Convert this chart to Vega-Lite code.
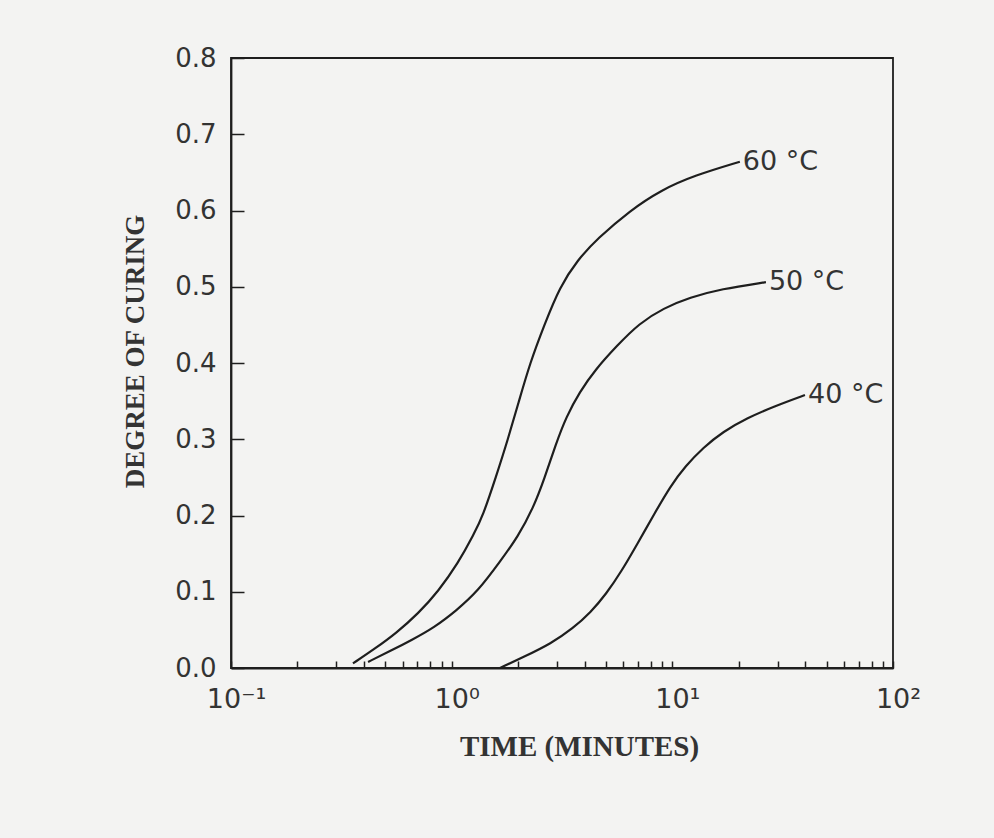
{
  "$schema": "https://vega.github.io/schema/vega-lite/v6.json",
  "width": 662,
  "height": 610,
  "autosize": {"type": "none"},
  "padding": {"left": 231, "top": 58, "right": 101, "bottom": 170},
  "background": "#f3f3f2",
  "config": {
    "view": {"stroke": "#1e1e1e", "strokeWidth": 1.8},
    "axis": {
      "domainColor": "#1e1e1e",
      "domainWidth": 1.8,
      "tickColor": "#1e1e1e",
      "tickWidth": 1.5,
      "grid": false,
      "labelColor": "#333333",
      "titleColor": "#333333",
      "labelFont": "DejaVu Sans",
      "titleFont": "Liberation Serif"
    }
  },
  "datasets": {
    "curves": [
      {"series": "60 °C", "t": 0.357, "v": 0.006},
      {"series": "60 °C", "t": 0.447, "v": 0.025},
      {"series": "60 °C", "t": 0.562, "v": 0.046},
      {"series": "60 °C", "t": 0.708, "v": 0.072},
      {"series": "60 °C", "t": 0.867, "v": 0.100},
      {"series": "60 °C", "t": 1.072, "v": 0.138},
      {"series": "60 °C", "t": 1.259, "v": 0.175},
      {"series": "60 °C", "t": 1.387, "v": 0.200},
      {"series": "60 °C", "t": 1.585, "v": 0.250},
      {"series": "60 °C", "t": 1.799, "v": 0.300},
      {"series": "60 °C", "t": 2.018, "v": 0.350},
      {"series": "60 °C", "t": 2.265, "v": 0.400},
      {"series": "60 °C", "t": 2.630, "v": 0.450},
      {"series": "60 °C", "t": 3.090, "v": 0.500},
      {"series": "60 °C", "t": 3.715, "v": 0.535},
      {"series": "60 °C", "t": 4.571, "v": 0.563},
      {"series": "60 °C", "t": 6.427, "v": 0.600},
      {"series": "60 °C", "t": 8.913, "v": 0.627},
      {"series": "60 °C", "t": 12.59, "v": 0.646},
      {"series": "60 °C", "t": 20.23, "v": 0.664},
      {"series": "50 °C", "t": 0.418, "v": 0.008},
      {"series": "50 °C", "t": 0.525, "v": 0.022},
      {"series": "50 °C", "t": 0.661, "v": 0.037},
      {"series": "50 °C", "t": 0.832, "v": 0.053},
      {"series": "50 °C", "t": 1.047, "v": 0.075},
      {"series": "50 °C", "t": 1.318, "v": 0.101},
      {"series": "50 °C", "t": 1.660, "v": 0.140},
      {"series": "50 °C", "t": 1.995, "v": 0.172},
      {"series": "50 °C", "t": 2.344, "v": 0.210},
      {"series": "50 °C", "t": 2.630, "v": 0.248},
      {"series": "50 °C", "t": 2.951, "v": 0.292},
      {"series": "50 °C", "t": 3.311, "v": 0.330},
      {"series": "50 °C", "t": 3.802, "v": 0.362},
      {"series": "50 °C", "t": 4.467, "v": 0.391},
      {"series": "50 °C", "t": 5.623, "v": 0.423},
      {"series": "50 °C", "t": 7.079, "v": 0.452},
      {"series": "50 °C", "t": 9.120, "v": 0.472},
      {"series": "50 °C", "t": 12.02, "v": 0.486},
      {"series": "50 °C", "t": 16.60, "v": 0.497},
      {"series": "50 °C", "t": 26.55, "v": 0.506},
      {"series": "40 °C", "t": 1.656, "v": 0.000},
      {"series": "40 °C", "t": 2.138, "v": 0.015},
      {"series": "40 °C", "t": 2.818, "v": 0.032},
      {"series": "40 °C", "t": 3.548, "v": 0.052},
      {"series": "40 °C", "t": 4.266, "v": 0.073},
      {"series": "40 °C", "t": 5.012, "v": 0.097},
      {"series": "40 °C", "t": 5.888, "v": 0.127},
      {"series": "40 °C", "t": 6.918, "v": 0.162},
      {"series": "40 °C", "t": 8.318, "v": 0.203},
      {"series": "40 °C", "t": 9.772, "v": 0.238},
      {"series": "40 °C", "t": 11.48, "v": 0.265},
      {"series": "40 °C", "t": 13.80, "v": 0.289},
      {"series": "40 °C", "t": 16.98, "v": 0.310},
      {"series": "40 °C", "t": 21.88, "v": 0.328},
      {"series": "40 °C", "t": 28.84, "v": 0.343},
      {"series": "40 °C", "t": 39.90, "v": 0.358}
    ],
    "labels": [
      {"series": "60 °C", "t": 20.23, "v": 0.664},
      {"series": "50 °C", "t": 26.55, "v": 0.506},
      {"series": "40 °C", "t": 39.90, "v": 0.358}
    ]
  },
  "layer": [
    {
      "data": {"name": "curves"},
      "mark": {"type": "line", "interpolate": "basis", "color": "#1e1e1e", "strokeWidth": 2.2},
      "encoding": {
        "x": {
          "field": "t",
          "type": "quantitative",
          "scale": {"type": "log", "domain": [0.1, 100], "nice": false},
          "axis": {
            "title": "TIME (MINUTES)",
            "titleFontSize": 29,
            "titleFontWeight": "bold",
            "titleX": 348,
            "titleY": 87,
            "titleAlign": "center",
            "titleBaseline": "alphabetic",
            "values": [0.1, 0.2, 0.3, 0.4, 0.5, 0.6, 0.7, 0.8, 0.9, 1, 2, 3, 4, 5, 6, 7, 8, 9, 10, 20, 30, 40, 50, 60, 70, 80, 90, 100],
            "labelExpr": "datum.value == 0.1 ? '10⁻¹' : datum.value == 1 ? '10⁰' : datum.value == 10 ? '10¹' : datum.value == 100 ? '10²' : ''",
            "labelFontSize": 27,
            "labelFlush": false,
            "labelOverlap": false,
            "labelOffset": 5,
            "tickSize": -7,
            "labelPadding": 25,
            "encode": {
              "ticks": {
                "update": {
                  "y2": {"signal": "(datum.value == 0.1 || datum.value == 1 || datum.value == 10 || datum.value == 100) ? -14 : -7"}
                }
              }
            }
          }
        },
        "y": {
          "field": "v",
          "type": "quantitative",
          "scale": {"domain": [0, 0.8], "nice": false},
          "axis": {
            "title": "DEGREE OF CURING",
            "titleFontSize": 27,
            "titleFontWeight": "bold",
            "titleAngle": -90,
            "titleX": -88,
            "titleY": 293,
            "titleAlign": "center",
            "titleBaseline": "alphabetic",
            "values": [0, 0.1, 0.2, 0.3, 0.4, 0.5, 0.6, 0.7, 0.8],
            "format": ".1f",
            "labelFontSize": 26,
            "tickSize": -13,
            "labelPadding": 28
          }
        },
        "detail": {"field": "series", "type": "nominal"}
      }
    },
    {
      "data": {"name": "labels"},
      "mark": {"type": "text", "align": "left", "baseline": "middle", "dx": 3, "font": "DejaVu Sans", "fontSize": 27, "color": "#333333"},
      "encoding": {
        "x": {"field": "t", "type": "quantitative"},
        "y": {"field": "v", "type": "quantitative"},
        "text": {"field": "series", "type": "nominal"}
      }
    }
  ]
}
